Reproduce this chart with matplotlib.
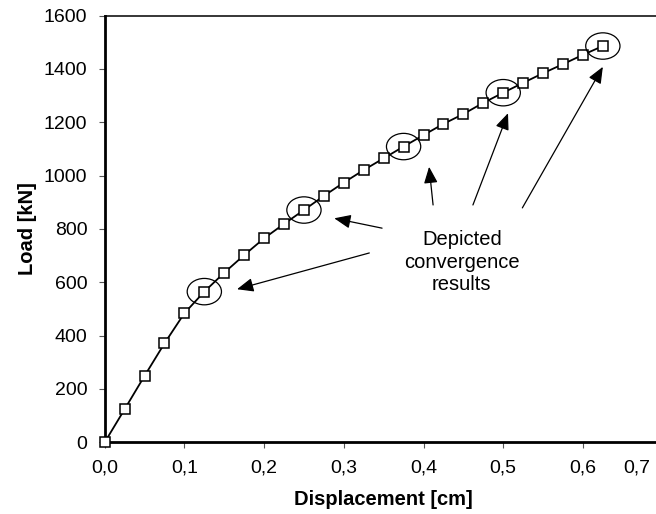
import numpy as np
import matplotlib
matplotlib.use('Agg')
import matplotlib.pyplot as plt
from matplotlib.patches import Ellipse
from matplotlib.transforms import ScaledTranslation

plt.rcParams['font.family'] = ['Liberation Sans', 'DejaVu Sans']

# load-displacement curve
displacement = np.arange(26) * 0.025
load = [0, 124, 249, 371, 484, 565, 636, 702, 765, 819, 871, 924, 974,
        1021, 1065, 1109, 1152, 1194, 1231, 1273, 1311, 1348, 1384, 1418,
        1453, 1486]

# points that get circled
circled = [5, 10, 15, 20, 25]

# annotation: text position and arrow tips (data coords)
note_text = 'Depicted\nconvergence\nresults'
note_xy = (0.448, 676)
arrow_tails = [(0.332, 710), (0.348, 803), (0.412, 890), (0.462, 890), (0.524, 879)]
arrow_tips = [(0.166, 574), (0.288, 840), (0.407, 1033), (0.506, 1234), (0.625, 1408)]

xticks = np.arange(0, 0.71, 0.1)
xticklabels = ['0,0', '0,1', '0,2', '0,3', '0,4', '0,5', '0,6', '0,7']
yticks = np.arange(0, 1601, 200)

fig = plt.figure(figsize=(6.56, 5.14), dpi=100)
ax = fig.add_axes([0.1596, 0.1395, 0.8505, 0.8301])

ax.plot(displacement, load, color='black', lw=1.3, marker='s', ms=6.8,
        mfc='white', mec='black', mew=1.1, zorder=3, clip_on=False)

for i in circled:
    ax.add_patch(Ellipse((displacement[i], load[i]), 0.043, 99, fill=False,
                         ec='black', lw=0.9, zorder=4))

ax.text(note_xy[0], note_xy[1], note_text, ha='center', va='center',
        fontsize=14.5, linespacing=1.25)
for tail, tip in zip(arrow_tails, arrow_tips):
    ax.annotate('', xy=tip, xytext=tail,
                arrowprops=dict(arrowstyle='-|>,head_length=1.0,head_width=0.42',
                                mutation_scale=10, color='black', lw=0.9,
                                shrinkA=0, shrinkB=0))

ax.set_xlim(0, 0.7)
ax.set_ylim(0, 1600)
ax.set_xticks(xticks)
ax.set_xticklabels(xticklabels)
ax.set_yticks(yticks)
ax.tick_params(direction='out', length=4.5, width=0.8, color='#555555',
               labelsize=14, pad=8)

# last label sits left of its tick in the original (tick is off the image)
last = ax.get_xticklabels()[-1]
last.set_transform(last.get_transform() + ScaledTranslation(-26 / 100, 0, fig.dpi_scale_trans))

for s in ['left', 'bottom']:
    ax.spines[s].set_linewidth(2)
ax.spines['top'].set_linewidth(1.1)
ax.spines['right'].set_linewidth(1.1)

ax.set_xlabel('Displacement [cm]', fontsize=14.5, fontweight='bold', va='center')
ax.set_ylabel('Load [kN]', fontsize=14.5, fontweight='bold', va='center')
ax.xaxis.set_label_coords(0.5, -0.133)
ax.yaxis.set_label_coords(-0.139, 0.5)

fig.savefig('out.png', dpi=100)
